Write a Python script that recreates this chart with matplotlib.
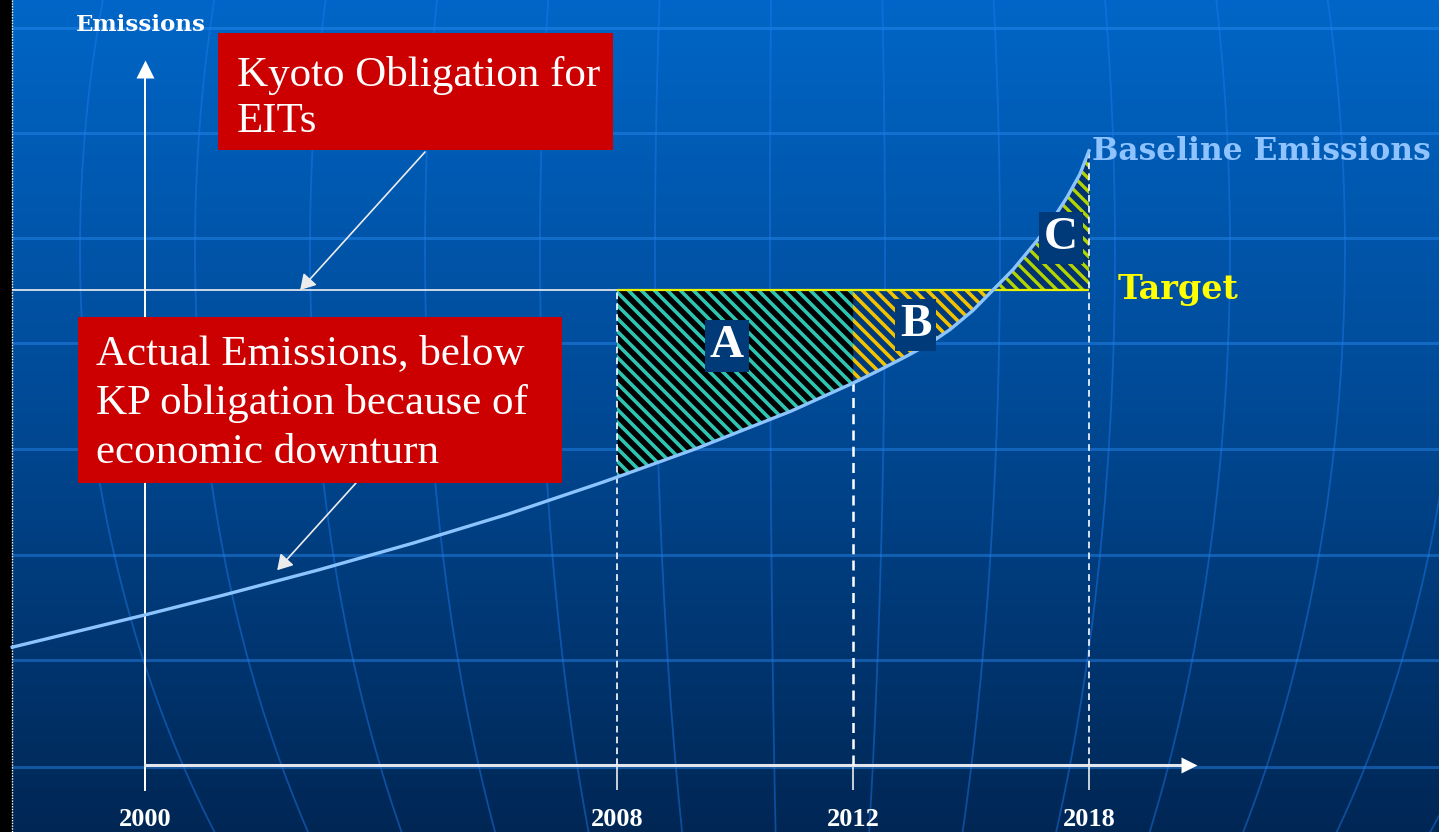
"""
Kyoto obligation slide: baseline emissions vs target, areas A / B / C.
"""
import numpy as np
import matplotlib
matplotlib.use("Agg")
import matplotlib.pyplot as plt
from matplotlib.patches import Rectangle
from matplotlib.collections import LineCollection

# ── values (target = 100, axis origin = 0) ───────────────────────────────────
years = [1997.75, 2000.0, 2001.34, 2002.95, 2004.54, 2006.15, 2007.75, 2008.0,
         2009.34, 2010.95, 2012.0, 2012.69, 2013.37, 2013.96, 2014.47,
         2015.05, 2015.56, 2016.07, 2016.68, 2017.08, 2017.44, 2017.77, 2018.0]
baseline = [24.8, 31.6, 35.8, 41.1, 46.7, 52.8, 59.5, 60.6,
            66.6, 74.5, 80.4, 83.2, 86.1, 88.8, 91.7,
            95.7, 100.0, 104.3, 110.4, 114.9, 119.5, 124.4, 129.3]
target = 100.0
tick_years = [2000, 2008, 2012, 2018]
tick_labels = ["2000", "2008", "2012", "2018"]
period_start, period_end, crossing, horizon = 2008, 2012, 2015.56, 2018

W, H = 1439, 832
SERIF = "Liberation Serif"
WIDE = "DejaVu Serif"


def fig_xy(x, y):
    # slide pixel -> figure fraction
    return x / W, 1 - y / H


# x axis is schematic: 2000-2008 gets two slots, then one slot per period
_yr = [1980, 2000, 2008, 2012, 2018, 2040]
_slot = [-5, 0, 2, 3, 4, 7.6667]


def fwd(v):
    return np.interp(v, _yr, _slot)


def inv(v):
    return np.interp(v, _slot, _yr)


fig = plt.figure(figsize=(W / 100, H / 100), dpi=100)

# ── background: gradient + globe grid ────────────────────────────────────────
bg = fig.add_axes([0, 0, 1, 1])
bg.set_xlim(0, W)
bg.set_ylim(H, 0)
bg.axis("off")
rows = np.arange(H)
stops_y = [0, 400, H]
r = np.zeros(H)
g = np.interp(rows, stops_y, [0.40, 0.29, 0.15])
b = np.interp(rows, stops_y, [0.78, 0.59, 0.33])
grad = np.stack([r, g, b], axis=1)[:, None, :]
bg.imshow(grad, extent=(0, W, H, 0), aspect="auto", zorder=0)

for yy in [28, 133, 238, 343, 449, 555, 660, 767]:
    bg.plot([0, W], [yy, yy], color="#2a8af2", alpha=0.45, lw=2.2, zorder=1)

yy = np.linspace(0, H, 200)
for a in np.arange(-720, 900, 115):
    xx = 800 + a * np.sqrt(1 - ((yy - 250) / 1000.0) ** 2)
    bg.plot(xx, yy, color="#1f7cf0", alpha=0.45, lw=1.3, zorder=1)

bg.add_patch(Rectangle((0, 0), 11, H, color="black", zorder=2))
bg.plot([12, 12], [0, H], color="white", lw=1, ls=(0, (1, 1)), zorder=3)

# ── main diagram ─────────────────────────────────────────────────────────────
ax = fig.add_axes([0, 0, 1, 1])
ax.set_facecolor("none")
ax.set_xscale("function", functions=(fwd, inv))

yrs = np.array(years)
base = np.array(baseline)

regions = [
    ((yrs >= period_start) & (yrs <= period_end), "black", "#2ec4b2", 2.6),
    ((yrs >= period_end) & (yrs <= crossing), "#003a7a", "#f2c200", 2.6),
    ((yrs >= crossing) & (yrs <= horizon), "#00336f", "#b4d400", 2.4),
]
Wi, Hi = W / 100, H / 100
segs = [[(x0, Hi), (x0 + Hi, 0)] for x0 in np.arange(-Hi, Wi, 0.13)]
for mask, fill, stripe, lw in regions:
    poly = ax.fill_between(yrs, base, target, where=mask, color=fill,
                           lw=0, zorder=2)
    lc = LineCollection(segs, colors=stripe, linewidths=lw,
                        transform=fig.dpi_scale_trans, zorder=2.5)
    lc.set_clip_path(poly.get_paths()[0], poly.get_transform())
    ax.add_collection(lc, autolim=False)

# Kyoto target line: white before the period, yellow along the areas
ax.hlines(target, years[0], period_start, color="#f0f0f0", lw=1.2, zorder=3)
ax.hlines(target, period_start, horizon, color="#e8f000", lw=1.6, zorder=3)

ax.plot(yrs, base, color="#8cc4ff", lw=2.4, zorder=4)

# dashed drop lines
dash = (0, (4, 2.5))
ax.vlines(period_start, 0, target, color="white", lw=1.2, ls=dash, zorder=3)
ax.vlines(period_end, 0, base[yrs == period_end][0], color="white",
          lw=1.8, ls=dash, zorder=3)
ax.vlines(horizon, 0, base[-1], color="white", lw=1.2, ls=dash, zorder=3)

# area labels
label_box = dict(boxstyle="square,pad=0.1", fc="#003a78", ec="none")
for txt, xv, yv in [("A", 2009.86, 88.2), ("B", 2013.6, 92.6),
                    ("C", 2017.29, 110.9)]:
    ax.text(xv, yv, txt, ha="center", va="center", fontsize=34,
            fontweight="bold", color="white", family=SERIF,
            bbox=label_box, zorder=5)

# axes with arrow heads
ax.spines["top"].set_visible(False)
ax.spines["right"].set_visible(False)
ax.spines["bottom"].set_position(("data", 0))
ax.spines["bottom"].set_bounds(2000, 2020.45)
ax.spines["bottom"].set_color("#e4e6ee")
ax.spines["bottom"].set_linewidth(2.2)
ax.spines["left"].set_position(("data", 2000))
ax.spines["left"].set_bounds(-5.3, 145)
ax.spines["left"].set_color("white")
ax.spines["left"].set_linewidth(1.4)
ax.plot(2020.53, 0, marker=">", ms=12, color="white", mec="none",
        clip_on=False, zorder=6)
ax.plot(2000, 146.6, marker="^", ms=13, color="white", mec="none",
        clip_on=False, zorder=6)

ax.set_yticks([])
ax.set_xticks(tick_years, tick_labels, fontfamily=SERIF, fontweight="bold")
ax.tick_params(axis="x", colors="white", direction="out", length=18,
               width=1.1, pad=13, labelsize=19)

ax.set_xlim(inv(-0.6144), inv(5.483))
ax.set_ylim(-14.105, 161.05)

# ── texts and call-outs ──────────────────────────────────────────────────────
ax.text(*fig_xy(141, 31), "Emissions", transform=fig.transFigure,
        ha="center", va="baseline", fontsize=16.5, fontweight="bold",
        color="white", family=WIDE)
ax.text(*fig_xy(1092, 160), "Baseline Emissions", transform=fig.transFigure,
        ha="left", va="baseline", fontsize=22.5, fontweight="bold",
        color="#8ec3ff", family=WIDE)
ax.text(*fig_xy(1118, 299), "Target", transform=fig.transFigure,
        ha="left", va="baseline", fontsize=24, fontweight="bold",
        color="#ffff00", family=WIDE)

# red call-out boxes (va="baseline" anchors the last line of the text)
ax.add_patch(Rectangle(fig_xy(218, 150), 395 / W, 117 / H,
                       transform=fig.transFigure, fc="#cc0000", ec="none",
                       zorder=7))
ax.text(*fig_xy(237, 132), "Kyoto Obligation for\nEITs",
        transform=fig.transFigure, ha="left", va="baseline", fontsize=31,
        color="white", family=SERIF, linespacing=1.25, zorder=8)

ax.add_patch(Rectangle(fig_xy(78, 483), 484 / W, 166 / H,
                       transform=fig.transFigure, fc="#cc0000", ec="none",
                       zorder=7))
ax.text(*fig_xy(96, 463),
        "Actual Emissions, below\nKP obligation because of\neconomic downturn",
        transform=fig.transFigure, ha="left", va="baseline", fontsize=31,
        color="white", family=SERIF, linespacing=1.36, zorder=8)

arrow = dict(arrowstyle="-|>,head_length=0.5,head_width=0.3", color="#ececec",
             lw=1.2, mutation_scale=18, shrinkA=0, shrinkB=0)
ax.annotate("", xy=(2002.63, target), xytext=fig_xy(425, 152),
            textcoords="figure fraction", arrowprops=arrow, zorder=6)
ax.annotate("", xy=(2002.24, 41.0), xytext=fig_xy(356, 483),
            textcoords="figure fraction", arrowprops=arrow, zorder=6)

fig.savefig("out.png", dpi=100)
